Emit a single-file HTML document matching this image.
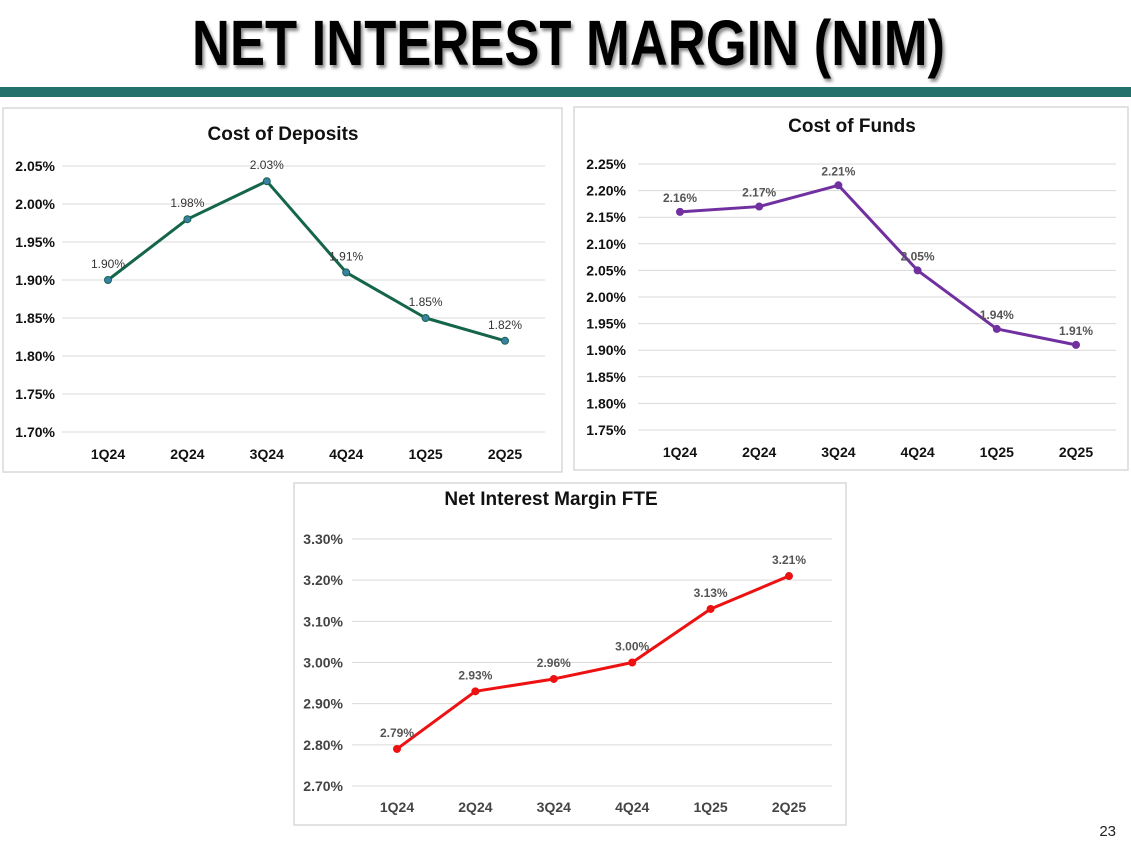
<!DOCTYPE html>
<html><head><meta charset="utf-8"><style>
body{margin:0;width:1131px;height:845px;background:#fff;overflow:hidden;font-family:"Liberation Sans",sans-serif}
svg{position:absolute;left:0;top:0}
</style></head><body>
<svg id="s" width="1131" height="845">
<defs><filter id="sh"><feDropShadow dx="2" dy="3" stdDeviation="1.5" flood-color="#555" flood-opacity="0.7"/></filter></defs>
<text x="192" y="65" font-size="64" font-weight="bold" textLength="753" lengthAdjust="spacingAndGlyphs" fill="#000" filter="url(#sh)">NET INTEREST MARGIN (NIM)</text>
<rect x="0" y="87" width="1131" height="10" fill="#22716c"/>
<text x="1116" y="836" font-size="15" text-anchor="end" fill="#222">23</text>
</svg>
<script>
const categories=["1Q24","2Q24","3Q24","4Q24","1Q25","2Q25"];
const depositValues=[1.90,1.98,2.03,1.91,1.85,1.82];
const depositTicks=[1.70,1.75,1.80,1.85,1.90,1.95,2.00,2.05];
const fundsValues=[2.16,2.17,2.21,2.05,1.94,1.91];
const fundsTicks=[1.75,1.80,1.85,1.90,1.95,2.00,2.05,2.10,2.15,2.20,2.25];
const nimValues=[2.79,2.93,2.96,3.00,3.13,3.21];
const nimTicks=[2.70,2.80,2.90,3.00,3.10,3.20,3.30];

const NS="http://www.w3.org/2000/svg";
const svg=document.getElementById('s');
function mk(tag,attrs,parent,text){const e=document.createElementNS(NS,tag);for(const k in attrs)e.setAttribute(k,attrs[k]);if(text!==undefined)e.textContent=text;(parent||svg).appendChild(e);return e;}

function chart(cfg){
  const g=mk('g',{});
  
  
  const box=mk('rect',{x:cfg.box[0],y:cfg.box[1],width:cfg.box[2],height:cfg.box[3],fill:'#fff',stroke:'#d9d9d9','stroke-width':1.5},g);
  
  
  const t=mk('text',{x:cfg.titleX,y:cfg.titleY,'font-size':19,'font-weight':'bold','text-anchor':'middle',fill:'#111'},g,cfg.title);
  
  
  const tMin=cfg.ticks[0],tMax=cfg.ticks[cfg.ticks.length-1];
  const y=v=>cfg.yBot-(v-tMin)/(tMax-tMin)*(cfg.yBot-cfg.yTop);
  const x=i=>cfg.x0+i*(cfg.x1-cfg.x0)/(categories.length-1);
  cfg.ticks.forEach(v=>{
    const l=mk('line',{x1:cfg.gx0,x2:cfg.gx1,y1:y(v),y2:y(v),stroke:'#d9d9d9','stroke-width':1},g);
    
    
    const tl=mk('text',{x:cfg.labX,y:y(v)+5,'font-size':14,'font-weight':'bold','text-anchor':'end',fill:cfg.tickCol},g,v.toFixed(2)+'%');
    
    
  });
  categories.forEach((c,i)=>{
    const xl=mk('text',{x:x(i),y:cfg.catY,'font-size':14,'font-weight':'bold','text-anchor':'middle',fill:cfg.tickCol},g,c);
    
    
  });
  const pts=cfg.values.map((v,i)=>x(i)+','+y(v)).join(' ');
  const pl=mk('polyline',{points:pts,fill:'none',stroke:cfg.color,'stroke-width':3,'stroke-linejoin':'round'},g);
  
  
  cfg.values.forEach((v,i)=>{
    const p=mk('circle',{cx:x(i),cy:y(v),r:3.5,fill:cfg.marker,stroke:cfg.color,'stroke-width':1},g);
    
    
    const lb=mk('text',{x:x(i),y:y(v)-cfg.lblOff,'font-size':12,'font-weight':cfg.lblWeight,'text-anchor':'middle',fill:cfg.lblCol},g,v.toFixed(2)+'%');
    
    
  });
}
chart({name:'cost-of-deposits-chart',box:[3,108,559,364],title:'Cost of Deposits',titleX:283,titleY:140,
  ticks:depositTicks,values:depositValues,yTop:166,yBot:432,x0:108,x1:505,gx0:62,gx1:545,labX:55,catY:459,
  color:'#14654a',marker:'#3a7fa6',tickCol:'#111',lblOff:12,lblWeight:'normal',lblCol:'#333'});
chart({name:'cost-of-funds-chart',box:[574,107,554,363],title:'Cost of Funds',titleX:852,titleY:132,
  ticks:fundsTicks,values:fundsValues,yTop:164,yBot:430,x0:680,x1:1076,gx0:638,gx1:1116,labX:626,catY:457,
  color:'#7030a0',marker:'#7030a0',tickCol:'#111',lblOff:10,lblWeight:'bold',lblCol:'#555'});
chart({name:'net-interest-margin-chart',box:[294,483,552,342],title:'Net Interest Margin FTE',titleX:551,titleY:505,
  ticks:nimTicks,values:nimValues,yTop:539,yBot:786,x0:397,x1:789,gx0:352,gx1:832,labX:343,catY:812,
  color:'#ee1111',marker:'#ee1111',tickCol:'#444',lblOff:12,lblWeight:'bold',lblCol:'#555'});
</script>
</body></html>
